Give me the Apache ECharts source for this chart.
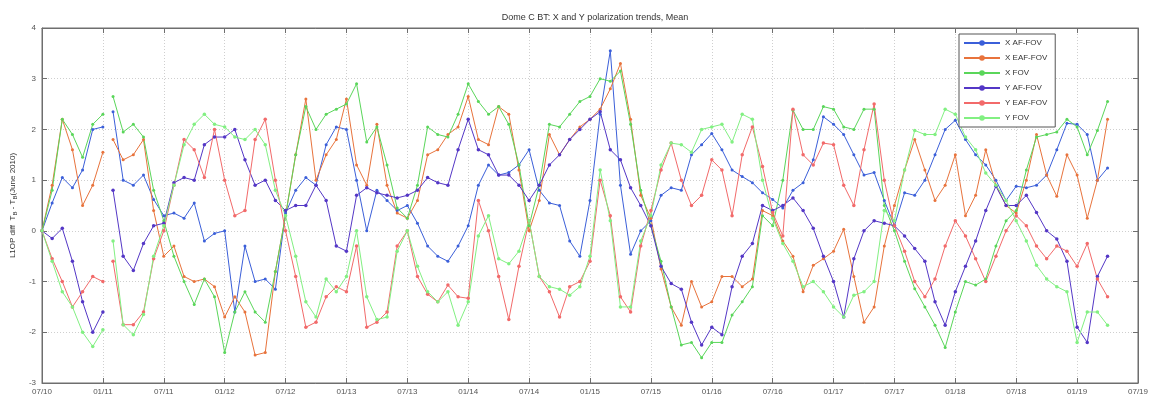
<!DOCTYPE html>
<html><head><meta charset="utf-8">
<script src="https://cdn.jsdelivr.net/npm/echarts@6/dist/echarts.min.js"></script>
<style>html,body{margin:0;padding:0;background:#fff}#c{width:1151px;height:403px}</style>
</head><body><div id="c"></div>
<script>
// Tick labels every 6 months starting 07/2010
const tickLabels = ['07/10','01/11','07/11','01/12','07/12','01/13','07/13','01/14','07/14','01/15',
  '07/15','01/16','07/16','01/17','07/17','01/18','07/18','01/19','07/19'];
const seriesNames = ['X AF-FOV','X EAF-FOV','X FOV','Y AF-FOV','Y EAF-FOV','Y FOV'];

// sample positions in months since 07/2010 (gap after month 6)
const months = [];
for (let m = 0; m <= 105; m++) { months.push(m); if (m === 6) months.push(6.5); }

const xAF = [0,0.55,1.05,0.85,1.2,2.0,2.05,null,
 2.35,1.0,0.9,1.1,0.62,0.3,
 0.35,0.25,0.55,-0.2,-0.05,0.0,
 -1.6,-0.3,-1.0,-0.95,-1.15,0.35,
 0.8,1.05,0.9,1.7,2.05,2.0,
 1.0,0.0,0.8,0.6,0.4,0.5,
 0.15,-0.3,-0.5,-0.6,-0.3,0.1,
 0.9,1.3,1.1,1.15,1.3,1.6,
 0.8,0.55,0.5,-0.2,-0.5,0.6,
 2.3,3.55,0.9,-0.46,0.0,0.2,
 0.7,0.85,0.8,1.5,1.7,1.92,
 1.6,1.2,1.07,0.95,0.75,0.62,
 0.45,0.8,0.95,1.4,2.25,2.1,
 1.9,1.5,1.1,1.15,0.6,0.1,
 0.75,0.7,1.0,1.5,2.0,2.18,
 1.8,1.5,1.3,1.0,0.6,0.88,
 0.85,0.9,1.1,1.6,2.12,2.1,
 1.9,1.0,1.24];

const xEAF = [0,0.9,2.2,1.6,0.5,0.9,1.55,null,
 1.8,1.4,1.5,1.8,0.4,-0.5,
 -0.3,-0.9,-1.0,-0.95,-1.1,-1.7,
 -1.3,-1.6,-2.45,-2.4,-0.8,0.3,
 1.5,2.6,1.0,1.5,1.8,2.6,
 1.3,0.9,2.1,0.9,0.35,0.25,
 0.6,1.5,1.6,1.9,2.05,2.65,
 1.8,1.7,2.45,2.3,1.2,0.0,
 0.6,1.9,1.5,1.8,2.05,2.2,
 2.4,2.8,3.3,2.2,0.7,0.25,
 -0.75,-1.5,-1.86,-1.0,-1.5,-1.4,
 -0.9,-0.9,-1.1,-0.95,0.4,0.3,
 -0.2,-0.5,-1.2,-0.68,-0.55,-0.4,
 0.03,-0.9,-1.8,-1.5,-0.3,0.5,
 1.2,1.8,1.2,0.6,0.9,1.5,
 0.3,0.7,1.6,0.9,0.5,0.35,
 1.0,1.9,1.1,0.68,1.5,1.1,
 0.25,1.0,2.2];

const xFOV = [0,0.8,2.2,1.9,1.45,2.1,2.3,null,
 2.65,1.95,2.1,1.85,0.8,0.2,
 -0.5,-1.0,-1.45,-0.95,-1.3,-2.4,
 -1.6,-1.2,-1.6,-1.8,-0.8,0.3,
 1.5,2.45,2.0,2.3,2.4,2.5,
 2.9,1.75,2.05,1.3,0.45,0.25,
 0.9,2.05,1.9,1.85,2.3,2.9,
 2.55,2.3,2.45,2.1,1.3,0.1,
 0.9,2.1,2.05,2.3,2.55,2.65,
 3.0,2.95,3.15,2.1,0.8,0.1,
 -0.6,-1.5,-2.25,-2.2,-2.5,-2.2,
 -2.2,-1.66,-1.4,-1.1,0.3,0.1,
 1.0,2.38,2.0,2.0,2.45,2.4,
 2.05,2.0,2.4,2.4,0.5,0.0,
 -0.6,-1.14,-1.5,-1.86,-2.3,-1.6,
 -1.0,-1.07,-0.95,-0.3,0.2,0.4,
 1.2,1.85,1.9,1.95,2.2,2.05,
 1.5,1.98,2.55];

const yAF = [0,-0.15,0.05,-0.6,-1.4,-2.0,-1.6,null,
 0.8,-0.5,-0.78,-0.25,0.1,0.15,
 0.95,1.05,1.0,1.7,1.85,1.85,
 2.0,1.4,0.9,1.0,0.6,0.4,
 0.5,0.5,0.9,0.6,-0.3,-0.4,
 0.7,0.85,0.75,0.7,0.65,0.7,
 0.8,1.05,0.95,0.9,1.6,2.2,
 1.6,1.5,1.1,1.1,0.9,0.6,
 0.9,1.3,1.5,1.8,2.0,2.2,
 2.35,1.6,1.4,0.85,0.5,0.1,
 -0.7,-1.04,-1.15,-1.8,-2.25,-1.9,
 -2.05,-1.1,-0.5,-0.25,0.5,0.4,
 0.5,0.65,0.4,0.05,-0.5,-1.0,
 -1.7,-0.55,0.0,0.2,0.15,0.1,
 -0.1,-0.35,-0.6,-1.4,-1.86,-1.2,
 -0.7,-0.2,0.4,0.88,0.5,0.5,
 0.7,0.36,0.0,-0.16,-0.6,-1.9,
 -2.2,-0.9,-0.5];

const yEAF = [0,-0.55,-1.0,-1.5,-1.2,-0.9,-1.0,null,
 -0.6,-1.85,-1.85,-1.6,-0.55,0.0,
 0.9,1.8,1.6,1.05,2.0,1.0,
 0.3,0.4,1.8,2.2,1.0,0.0,
 -0.9,-1.9,-1.8,-1.3,-1.1,-1.2,
 -0.3,-1.9,-1.8,-1.6,-0.3,0.0,
 -0.9,-1.25,-1.4,-1.07,-1.3,-1.33,
 0.6,0.0,-0.9,-1.75,-0.7,0.2,
 -0.9,-1.2,-1.7,-1.1,-1.0,-0.6,
 1.0,0.3,-1.3,-1.6,-0.3,0.4,
 1.2,1.73,1.0,0.5,0.7,1.4,
 1.2,0.3,1.5,2.05,1.27,0.36,
 -0.1,2.4,1.5,1.3,1.73,1.7,
 0.9,0.5,1.6,2.5,1.0,0.1,
 -0.4,-1.0,-1.3,-0.95,-0.3,0.2,
 -0.1,-0.55,-1.0,-0.5,0.0,0.3,
 0.1,-0.3,-0.55,-0.3,-0.4,-0.7,
 -0.25,-0.95,-1.3];

const yFOV = [0,-0.6,-1.2,-1.5,-2.0,-2.28,-1.95,null,
 -0.2,-1.85,-2.05,-1.65,-0.5,0.1,
 0.9,1.7,2.1,2.3,2.1,2.05,
 1.85,1.8,2.0,1.7,0.8,0.3,
 -0.5,-1.4,-1.7,-0.95,-1.2,-0.9,
 0.0,-1.3,-1.75,-1.7,-0.4,0.0,
 -0.7,-1.2,-1.4,-1.2,-1.86,-1.4,
 -0.1,0.3,-0.55,-0.65,-0.4,0.2,
 -0.9,-1.1,-1.15,-1.27,-1.1,-0.5,
 1.2,0.2,-1.5,-1.5,-0.2,0.3,
 1.3,1.73,1.7,1.55,2.0,2.05,
 2.1,1.75,2.3,2.2,1.0,0.25,
 -0.25,-0.6,-1.1,-1.0,-1.2,-1.5,
 -1.7,-1.27,-1.2,-1.0,0.4,0.2,
 1.2,1.98,1.9,1.9,2.4,2.3,
 1.85,1.6,1.14,0.9,0.6,0.2,
 -0.2,-0.68,-0.95,-1.1,-1.2,-2.2,
 -1.6,-1.6,-1.86];

const seriesValues = [xAF, xEAF, xFOV, yAF, yEAF, yFOV];
const seriesColors = ['#3b5fd9','#e8733c','#5ad65a','#5437c6','#f26a6a','#82f082'];
const seriesSizes = [3,3,3,3.5,3.5,3.5];

const chart = echarts.init(document.getElementById('c'), null, {renderer:'canvas'});
const font = 'Liberation Sans, Arial, Helvetica, sans-serif';
const axisGrey = '#6e6e6e';

function toPairs(vals){ return months.map((m,i)=>[m, vals[i]===null ? '-' : vals[i]]); }

const option = {
  animation:false,
  backgroundColor:'#fff',
  textStyle:{fontFamily:font},
  title:{text:'Dome C BT: X and Y polarization trends, Mean', left:590, top:8, textAlign:'center',
    textStyle:{fontSize:9, fontWeight:'normal', color:'#333', fontFamily:font}},
  grid:{left:42, right:13, top:28, bottom:20, show:true, borderColor:axisGrey, borderWidth:1, backgroundColor:'transparent'},
  legend:{orient:'vertical', left:959, top:34, itemWidth:36, itemHeight:7, itemGap:7,
    data:seriesNames,
    textStyle:{fontSize:8, color:'#333', fontFamily:font},
    borderColor:'#555', borderWidth:1, backgroundColor:'#fff', padding:[5,8,5,4]},
  xAxis:[{
    type:'value', min:0, max:108, interval:6,
    axisLabel:{formatter:v=>tickLabels[Math.round(v/6)]||'', fontSize:8, color:'#555', margin:5, fontFamily:font},
    axisTick:{inside:true, length:5, lineStyle:{color:axisGrey}},
    axisLine:{onZero:false, lineStyle:{color:axisGrey}},
    splitLine:{show:true, lineStyle:{type:[1,2], color:'#cfcfcf', width:1}}
  },{
    type:'value', position:'top', min:0, max:108, interval:6,
    axisLabel:{show:false}, axisTick:{inside:true, length:5, lineStyle:{color:axisGrey}},
    axisLine:{onZero:false, lineStyle:{color:axisGrey}}, splitLine:{show:false}
  }],
  yAxis:[{
    type:'value', min:-3, max:4, interval:1,
    name:'{a|L1OP diff  T}{s|B}{a| - T}{s|B}{a|(June 2010)}',
    nameLocation:'middle', nameGap:24, nameRotate:90,
    nameTextStyle:{rich:{a:{fontSize:8, color:'#333', fontFamily:font}, s:{fontSize:6, color:'#333', fontFamily:font, padding:[4,0,0,0]}}},
    axisLabel:{fontSize:8, color:'#555', margin:6, fontFamily:font},
    axisTick:{inside:true, length:5, lineStyle:{color:axisGrey}},
    axisLine:{onZero:false, lineStyle:{color:axisGrey}},
    splitLine:{show:true, lineStyle:{type:[1,2], color:'#cfcfcf', width:1}}
  },{
    type:'value', position:'right', min:-3, max:4, interval:1,
    axisLabel:{show:false}, axisTick:{inside:true, length:5, lineStyle:{color:axisGrey}},
    axisLine:{onZero:false, lineStyle:{color:axisGrey}}, splitLine:{show:false}
  }],
  series: seriesNames.map((n,i)=>({
    name:n, type:'line', xAxisIndex:0, yAxisIndex:0,
    data:toPairs(seriesValues[i]),
    connectNulls:false,
    symbol:'circle', symbolSize:seriesSizes[i], showAllSymbol:true,
    lineStyle:{width:1, color:seriesColors[i]},
    itemStyle:{color:seriesColors[i]},
    emphasis:{disabled:true}
  }))
};
chart.setOption(option);
</script>
</body></html>
